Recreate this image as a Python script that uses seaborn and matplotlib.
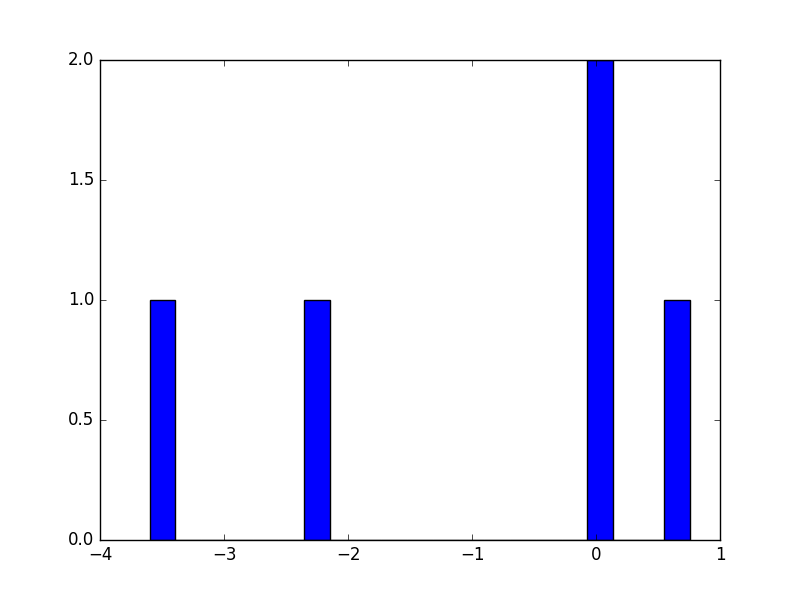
import matplotlib
matplotlib.use("Agg")
import matplotlib.pyplot as plt
import seaborn as sns

# Sample values (two values share the bin near 0)
values = [-3.6, -2.25, 0.02, 0.05, 0.76]
n_bins = 21

plt.style.use("classic")
plt.rcParams["font.family"] = ["DejaVu Sans"]

fig, ax = plt.subplots(figsize=(8, 6), dpi=100)
sns.histplot(x=values, bins=n_bins, color="blue", edgecolor="black",
             linewidth=1.0, alpha=1.0, ax=ax)

ax.set_xlim(-4, 1)
ax.set_ylim(0, 2)
ax.set_yticks([0.0, 0.5, 1.0, 1.5, 2.0])
ax.set_xlabel("")
ax.set_ylabel("")
ax.tick_params(direction="in", top=True, right=True)

fig.savefig("out.png", dpi=100)
